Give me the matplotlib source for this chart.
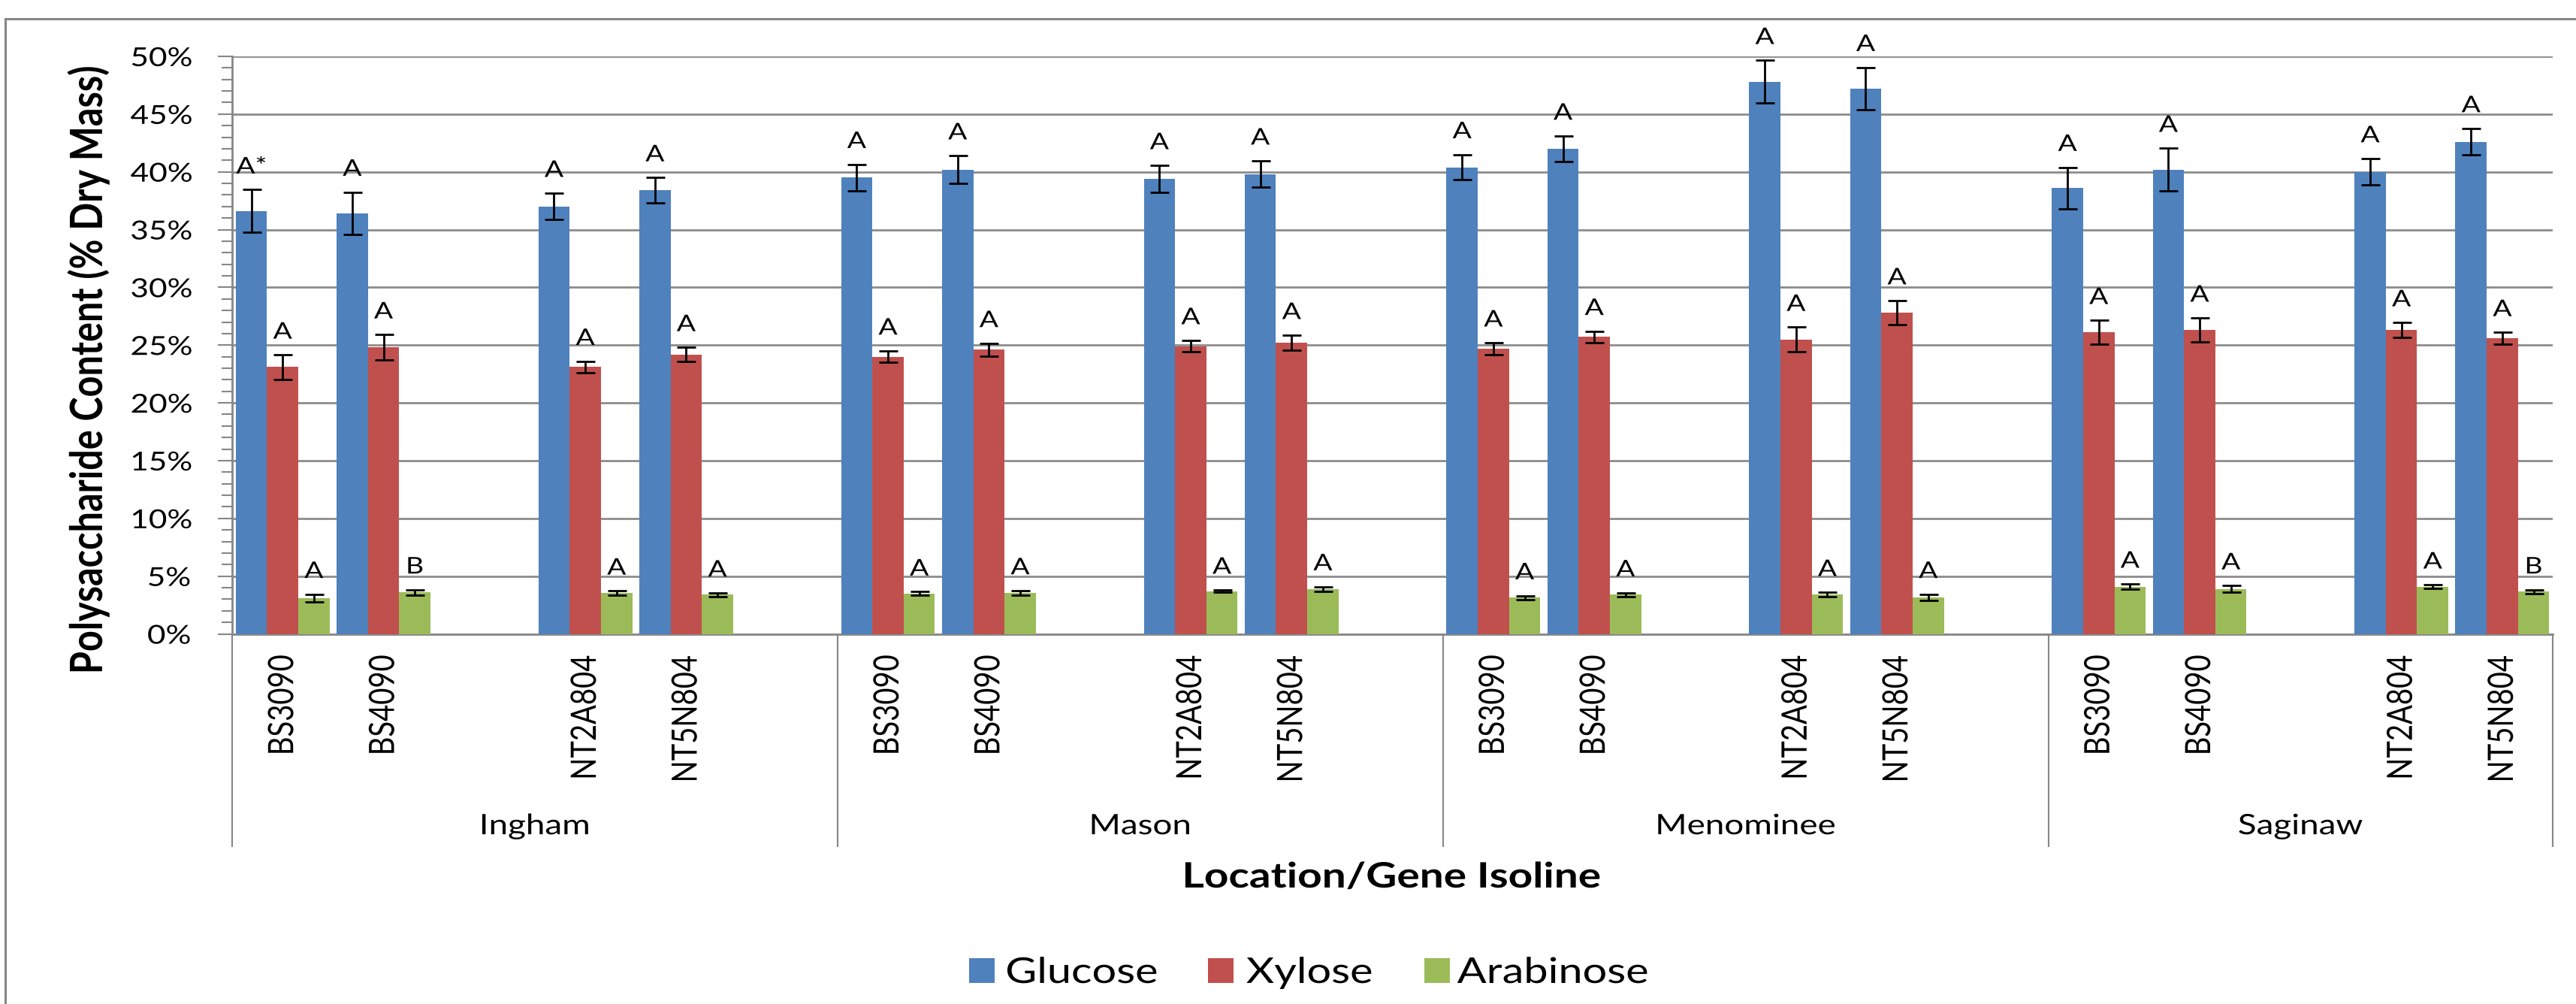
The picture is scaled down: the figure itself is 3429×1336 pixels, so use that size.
import numpy as np
import matplotlib
matplotlib.use('Agg')
import matplotlib.pyplot as plt
import matplotlib.transforms as mtransforms
from matplotlib.patheffects import AbstractPathEffect
from matplotlib.patches import Rectangle
from matplotlib.text import Text
from matplotlib.ticker import MultipleLocator, FuncFormatter

locations = ['Ingham', 'Mason', 'Menominee', 'Saginaw']
isolines = ['BS3090', 'BS4090', 'NT2A804', 'NT5N804']
sugars = ['Glucose', 'Xylose', 'Arabinose']
colors = ['#4F81BD', '#C0504D', '#9BBB59']

# % dry mass, location by location, isoline by isoline
glucose = [36.6, 36.4, 37.0, 38.4, 39.5, 40.2, 39.4, 39.8,
           40.4, 42.0, 47.8, 47.2, 38.6, 40.2, 40.0, 42.6]
glucose_err = [1.85, 1.85, 1.15, 1.1, 1.15, 1.2, 1.15, 1.15,
               1.1, 1.1, 1.85, 1.85, 1.8, 1.85, 1.15, 1.15]
xylose = [23.1, 24.8, 23.1, 24.2, 24.0, 24.6, 24.9, 25.2,
          24.7, 25.7, 25.5, 27.8, 26.1, 26.3, 26.3, 25.6]
xylose_err = [1.05, 1.1, 0.5, 0.6, 0.5, 0.55, 0.5, 0.65,
              0.5, 0.5, 1.05, 1.05, 1.05, 1.05, 0.65, 0.5]
arabinose = [3.1, 3.6, 3.55, 3.4, 3.5, 3.55, 3.7, 3.9,
             3.15, 3.4, 3.4, 3.15, 4.1, 3.9, 4.1, 3.65]
arabinose_err = [0.33, 0.22, 0.17, 0.15, 0.15, 0.2, 0.1, 0.2,
                 0.17, 0.17, 0.2, 0.28, 0.22, 0.28, 0.15, 0.17]

# significance groups
glucose_grp = ['A*'] + ['A'] * 15
xylose_grp = ['A'] * 16
arabinose_grp = ['A', 'B'] + ['A'] * 13 + ['B']

series = [
    (glucose, glucose_err, glucose_grp),
    (xylose, xylose_err, xylose_grp),
    (arabinose, arabinose_err, arabinose_grp),
]


class XStretch(AbstractPathEffect):
    """Widen glyphs horizontally (in screen space) about their own centre."""

    def __init__(self, sx):
        super().__init__()
        self.sx = sx

    def draw_path(self, renderer, gc, tpath, affine, rgbFace=None):
        bb = tpath.get_extents(affine)
        cx = 0.5 * (bb.x0 + bb.x1)
        t = affine + mtransforms.Affine2D().translate(-cx, 0).scale(self.sx, 1).translate(cx, 0)
        renderer.draw_path(gc, tpath, t, rgbFace)


plt.rcParams['font.family'] = ['Lato', 'DejaVu Sans']
GRAY = '#878787'
STRETCH = 1.22

fig = plt.figure(figsize=(34.3, 13.36), dpi=100)
ax = fig.add_axes([0.0901, 0.3686, 0.9006, 0.5753])

# each location gets six slots: two BS lines, a blank, two NT lines, a blank
# (the last location has no trailing blank)
pos = np.array([6 * g + s for g in range(len(locations)) for s in (0, 1, 3, 4)])
n_slots = 6 * len(locations) - 1
w = 0.31

handles = []
for k, ((vals, errs, grp), color) in enumerate(zip(series, colors)):
    x = pos + (k - 1) * w
    b = ax.bar(x, vals, w, color=color, yerr=errs, zorder=3,
               error_kw=dict(ecolor='black', elinewidth=2, capsize=9, capthick=2))
    handles.append(b)
    for xi, v, e, t in zip(x, vals, errs, grp):
        ax.annotate(t, (xi, v + e), xytext=(0, 12), textcoords='offset points',
                    ha='center', va='bottom', fontsize=22, zorder=4)

ax.set_xlim(-0.5, n_slots - 0.5)
ax.set_ylim(0, 50)
ax.yaxis.set_major_locator(MultipleLocator(5))
ax.yaxis.set_minor_locator(MultipleLocator(1))
ax.yaxis.set_major_formatter(FuncFormatter(lambda v, p: '%d%%' % v))
ax.yaxis.grid(True, color='#8c8c8c', lw=2)
ax.set_axisbelow(True)
ax.tick_params(axis='y', which='major', length=13.7, width=1.5, color=GRAY,
               labelsize=25, pad=29.5)
ax.tick_params(axis='y', which='minor', length=10, width=1.5, color=GRAY)

ax.set_xticks(pos)
ax.set_xticklabels(isolines * len(locations), rotation=90, fontsize=27.5)
ax.tick_params(axis='x', length=0, pad=20)

for side in ('top', 'right'):
    ax.spines[side].set_visible(False)
for side in ('left', 'bottom'):
    ax.spines[side].set_color(GRAY)
    ax.spines[side].set_linewidth(2)

# location level of the category axis
trans = mtransforms.blended_transform_factory(ax.transData, ax.transAxes)
edges = [-0.5] + [6 * g + 5.5 for g in range(len(locations) - 1)] + [n_slots - 0.5]
for xe in edges:
    ax.plot([xe, xe], [0, -0.3676], transform=trans, color=GRAY, lw=1.5, clip_on=False)
for g, loc in enumerate(locations):
    ax.text((edges[g] + edges[g + 1]) / 2, -0.3325, loc, transform=trans,
            ha='center', va='center', fontsize=27)

fig.text(0.0341, 0.6317, 'Polysaccharide Content (% Dry Mass)', rotation=90,
         ha='center', va='center', fontsize=35, weight='bold')
fig.text(0.540, 0.1265, 'Location/Gene Isoline', ha='center', va='center',
         fontsize=33.5, weight='bold')

fig.legend(handles, sugars, loc='center', bbox_to_anchor=(0.5047, 0.0307), ncol=3,
           frameon=False, fontsize=34, handlelength=0.72, handleheight=0.72,
           handletextpad=0.68, columnspacing=1.78)

fig.patches.append(Rectangle((7 / 3430, -0.05), 1.0, 1 - 25 / 1336 + 0.05,
                             transform=fig.transFigure, fill=False,
                             edgecolor=GRAY, lw=2.2))

# all text is set a little wide, as in the original worksheet export
fig.canvas.draw()
for t in fig.findobj(Text):
    t.set_path_effects([XStretch(STRETCH)])

fig.savefig('out.png', dpi=100)
